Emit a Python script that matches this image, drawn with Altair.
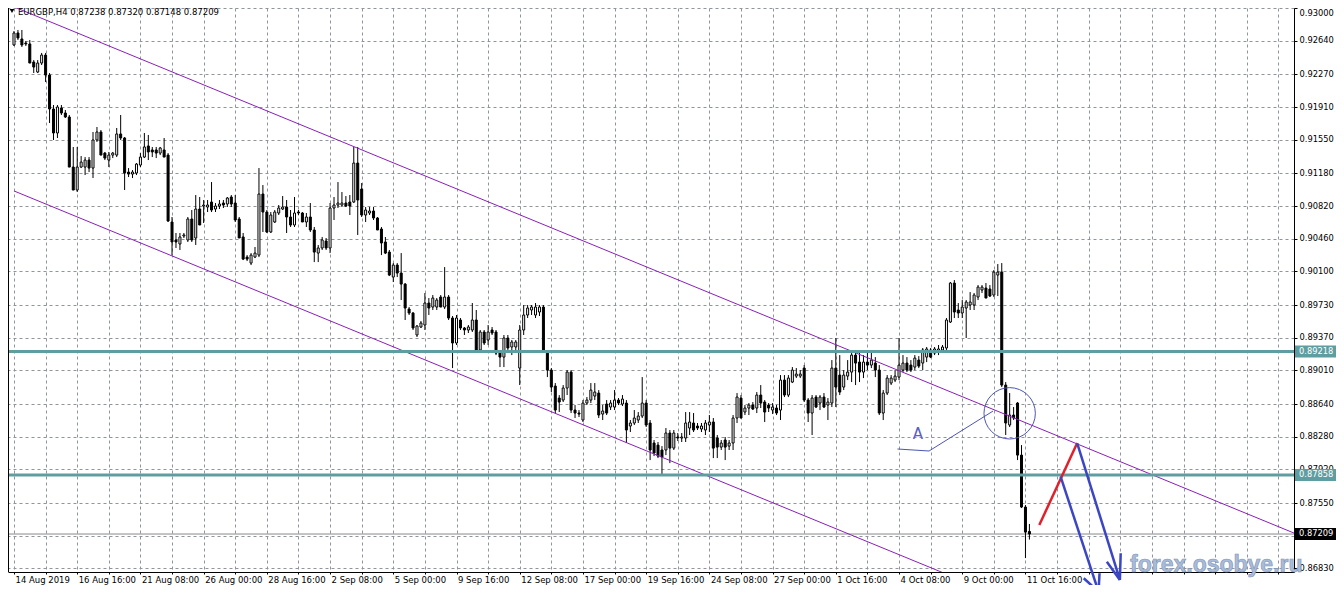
import json
import altair as alt
import pandas as pd

# ---------------- candle data (EURGBP H4) ----------------
OPEN = [0.92593,0.92725,0.92659,0.92615,0.92604,0.92405,0.92295,0.92394,0.92482,0.92262,
0.91888,0.91624,0.91899,0.91844,0.91800,0.91249,0.90996,0.91249,0.91249,0.91326,
0.91238,0.91547,0.91635,0.91403,0.91326,0.91381,0.91381,0.91613,0.91569,0.91194,
0.91172,0.91183,0.91271,0.91359,0.91481,0.91437,0.91437,0.91403,0.91437,0.91381,
0.90644,0.90446,0.90402,0.90490,0.90446,0.90677,0.90468,0.90787,0.90820,0.90809,
0.90864,0.90787,0.90820,0.90853,0.90842,0.90919,0.90853,0.90677,0.90479,0.90258,
0.90192,0.90258,0.90280,0.90952,0.90754,0.90534,0.90644,0.90743,0.90787,0.90809,
0.90699,0.90611,0.90754,0.90743,0.90644,0.90699,0.90556,0.90302,0.90358,0.90435,
0.90358,0.90798,0.90831,0.90831,0.90853,0.90864,0.90864,0.91293,0.91007,0.90721,
0.90743,0.90765,0.90688,0.90567,0.90424,0.90313,0.90038,0.90170,0.90082,0.89961,
0.89686,0.89642,0.89400,0.89488,0.89510,0.89752,0.89708,0.89708,0.89818,0.89708,
0.89818,0.89587,0.89312,0.89565,0.89477,0.89455,0.89455,0.89565,0.89235,0.89433,
0.89345,0.89455,0.89433,0.89212,0.89157,0.89367,0.89268,0.89268,0.89036,0.89455,
0.89620,0.89675,0.89620,0.89653,0.89708,0.89212,0.89014,0.88838,0.88706,0.88684,
0.88816,0.88992,0.88574,0.88541,0.88464,0.88651,0.88684,0.88728,0.88761,0.88530,
0.88640,0.88607,0.88607,0.88684,0.88640,0.88651,0.88398,0.88431,0.88464,0.88508,
0.88651,0.88431,0.88211,0.88188,0.88134,0.88134,0.88321,0.88155,0.88277,0.88266,
0.88266,0.88376,0.88431,0.88398,0.88365,0.88354,0.88409,0.88442,0.88266,0.88166,
0.88244,0.88177,0.88211,0.88486,0.88706,0.88552,0.88596,0.88629,0.88596,0.88739,
0.88662,0.88629,0.88574,0.88596,0.88574,0.88904,0.88739,0.88882,0.88948,0.88948,
0.89036,0.88684,0.88541,0.88717,0.88651,0.88717,0.88629,0.88651,0.89036,0.88959,
0.88827,0.88948,0.88992,0.89179,0.89102,0.88992,0.89102,0.89069,0.89091,0.89014,
0.88541,0.88761,0.88871,0.88904,0.88937,0.89014,0.89091,0.89069,0.89047,0.89124,
0.89091,0.89157,0.89235,0.89201,0.89212,0.89235,0.89257,0.89543,0.89972,0.89675,
0.89642,0.89697,0.89730,0.89730,0.89818,0.89895,0.89917,0.89906,0.89840,0.90060,
0.90093,0.88849,0.88409,0.88519,0.88651,0.88078,0.87506,0.87238]
HIGH = [0.92747,0.92758,0.92758,0.92637,0.92648,0.92427,0.92427,0.92505,0.92505,0.92284,
0.91932,0.91932,0.91932,0.91877,0.91822,0.91470,0.91470,0.91370,0.91359,0.91359,
0.91635,0.91690,0.91657,0.91415,0.91415,0.91415,0.91679,0.91822,0.91580,0.91238,
0.91216,0.91293,0.91403,0.91624,0.91602,0.91470,0.91470,0.91470,0.91569,0.91403,
0.90699,0.90523,0.90523,0.90523,0.90699,0.90776,0.90941,0.90919,0.90886,0.90886,
0.91084,0.90853,0.90886,0.90886,0.90919,0.90941,0.90941,0.90699,0.90523,0.90280,
0.90302,0.90369,0.91238,0.91051,0.90776,0.90754,0.90776,0.90831,0.90930,0.90886,
0.90776,0.90919,0.90776,0.90754,0.90743,0.90853,0.90589,0.90391,0.90479,0.90468,
0.90853,0.90919,0.91084,0.90974,0.90930,0.90941,0.91470,0.91470,0.91073,0.90809,
0.90809,0.90809,0.90699,0.90589,0.90479,0.90336,0.90192,0.90192,0.90302,0.89972,
0.89708,0.89653,0.89510,0.89554,0.89862,0.89807,0.89840,0.89807,0.89840,0.90148,
0.89840,0.89609,0.89620,0.89587,0.89488,0.89510,0.89752,0.89675,0.89455,0.89455,
0.89510,0.89488,0.89455,0.89235,0.89400,0.89400,0.89345,0.89345,0.89510,0.89730,
0.89730,0.89730,0.89752,0.89730,0.89730,0.89235,0.89036,0.88871,0.88739,0.88849,
0.89014,0.89014,0.88629,0.88574,0.88684,0.88717,0.88871,0.88871,0.88794,0.88629,
0.88684,0.88684,0.88794,0.88706,0.88739,0.88684,0.88464,0.88574,0.88552,0.88937,
0.88684,0.88464,0.88244,0.88222,0.88177,0.88376,0.88354,0.88354,0.88321,0.88321,
0.88552,0.88552,0.88541,0.88431,0.88431,0.88464,0.88519,0.88486,0.88299,0.88244,
0.88277,0.88244,0.88519,0.88761,0.88739,0.88629,0.88651,0.88662,0.88772,0.88849,
0.88684,0.88651,0.88651,0.88629,0.88959,0.88959,0.88959,0.89047,0.89036,0.89014,
0.89069,0.88706,0.88739,0.88739,0.88739,0.88761,0.88706,0.89124,0.89367,0.89179,
0.89014,0.89124,0.89235,0.89235,0.89212,0.89179,0.89212,0.89212,0.89157,0.89069,
0.88794,0.88959,0.88959,0.89014,0.89367,0.89179,0.89157,0.89124,0.89179,0.89168,
0.89257,0.89268,0.89257,0.89268,0.89290,0.89290,0.89587,0.89983,0.90005,0.89752,
0.89785,0.89785,0.89873,0.89862,0.89950,0.89950,0.89972,0.89950,0.90115,0.90181,
0.90192,0.88882,0.88761,0.88607,0.88662,0.88188,0.87528,0.87320]
LOW = [0.92582,0.92648,0.92571,0.92582,0.92394,0.92284,0.92284,0.92372,0.92185,0.91734,
0.91547,0.91569,0.91822,0.91789,0.91249,0.90996,0.90974,0.91238,0.91161,0.91194,
0.91128,0.91525,0.91381,0.91326,0.91249,0.91348,0.91359,0.91547,0.90996,0.91139,
0.91128,0.91161,0.91249,0.91348,0.91326,0.91359,0.91348,0.91381,0.91359,0.90644,
0.90280,0.90358,0.90336,0.90468,0.90424,0.90424,0.90391,0.90611,0.90633,0.90754,
0.90754,0.90754,0.90787,0.90798,0.90809,0.90809,0.90644,0.90468,0.90225,0.90214,
0.90170,0.90247,0.90258,0.90534,0.90523,0.90523,0.90633,0.90721,0.90776,0.90523,
0.90589,0.90589,0.90721,0.90644,0.90589,0.90534,0.90203,0.90203,0.90336,0.90336,
0.90302,0.90666,0.90798,0.90809,0.90809,0.90721,0.90853,0.90501,0.90699,0.90644,
0.90721,0.90666,0.90556,0.90280,0.90291,0.90049,0.89983,0.90038,0.89785,0.89565,
0.89620,0.89455,0.89378,0.89477,0.89455,0.89620,0.89675,0.89675,0.89708,0.89686,
0.89565,0.89036,0.89290,0.89455,0.89400,0.89422,0.89433,0.89212,0.89212,0.89290,
0.89290,0.89400,0.89179,0.89047,0.89047,0.89235,0.89179,0.89235,0.88849,0.89400,
0.89587,0.89620,0.89587,0.89609,0.89212,0.88937,0.88772,0.88541,0.88552,0.88662,
0.88739,0.88541,0.88486,0.88497,0.88442,0.88629,0.88651,0.88684,0.88486,0.88464,
0.88519,0.88574,0.88574,0.88629,0.88618,0.88211,0.88332,0.88409,0.88431,0.88486,
0.88387,0.88023,0.88067,0.88045,0.87869,0.88078,0.87990,0.88134,0.88233,0.88222,
0.88222,0.88299,0.88332,0.88354,0.88332,0.88299,0.88332,0.88045,0.88045,0.88134,
0.88023,0.88134,0.88134,0.88431,0.88486,0.88519,0.88519,0.88574,0.88541,0.88596,
0.88442,0.88552,0.88530,0.88519,0.88464,0.88717,0.88717,0.88871,0.88926,0.88926,
0.88662,0.88442,0.88299,0.88596,0.88574,0.88596,0.88464,0.88607,0.88607,0.88739,
0.88794,0.88904,0.88882,0.88849,0.88882,0.88926,0.89014,0.89036,0.88937,0.88519,
0.88464,0.88739,0.88849,0.88882,0.88904,0.88992,0.88992,0.88992,0.89014,0.89036,
0.89014,0.89102,0.89146,0.89179,0.89179,0.89212,0.89235,0.89532,0.89587,0.89587,
0.89587,0.89367,0.89675,0.89675,0.89785,0.89862,0.89807,0.89818,0.89818,0.89829,
0.88827,0.88299,0.88387,0.88464,0.88023,0.87495,0.86944,0.87148]
CLOSE = [0.92725,0.92670,0.92593,0.92604,0.92394,0.92350,0.92394,0.92482,0.92262,0.91888,
0.91624,0.91910,0.91844,0.91800,0.91249,0.90996,0.91249,0.91304,0.91326,0.91238,
0.91547,0.91635,0.91381,0.91348,0.91381,0.91403,0.91613,0.91569,0.91183,0.91172,
0.91194,0.91282,0.91359,0.91470,0.91415,0.91415,0.91403,0.91459,0.91359,0.90655,
0.90424,0.90424,0.90479,0.90501,0.90677,0.90446,0.90787,0.90611,0.90831,0.90831,
0.90776,0.90820,0.90842,0.90831,0.90908,0.90842,0.90666,0.90468,0.90236,0.90236,
0.90280,0.90302,0.90952,0.90754,0.90534,0.90721,0.90754,0.90798,0.90809,0.90699,
0.90611,0.90743,0.90743,0.90644,0.90699,0.90556,0.90313,0.90358,0.90446,0.90358,
0.90798,0.90831,0.90853,0.90853,0.90820,0.90820,0.91293,0.90886,0.90721,0.90776,
0.90765,0.90688,0.90556,0.90413,0.90302,0.90060,0.90170,0.90082,0.89961,0.89697,
0.89642,0.89477,0.89499,0.89532,0.89752,0.89697,0.89807,0.89785,0.89708,0.89818,
0.89587,0.89312,0.89587,0.89477,0.89455,0.89488,0.89565,0.89235,0.89433,0.89312,
0.89433,0.89422,0.89201,0.89157,0.89367,0.89257,0.89323,0.89323,0.89455,0.89620,
0.89697,0.89708,0.89708,0.89708,0.89235,0.89014,0.88827,0.88574,0.88662,0.88816,
0.88992,0.88574,0.88541,0.88530,0.88651,0.88684,0.88794,0.88772,0.88519,0.88563,
0.88541,0.88651,0.88684,0.88651,0.88695,0.88354,0.88431,0.88486,0.88508,0.88651,
0.88409,0.88134,0.88101,0.88067,0.88056,0.88321,0.88155,0.88321,0.88266,0.88277,
0.88431,0.88442,0.88354,0.88376,0.88398,0.88431,0.88442,0.88155,0.88166,0.88211,
0.88166,0.88211,0.88486,0.88717,0.88486,0.88596,0.88629,0.88585,0.88739,0.88651,
0.88552,0.88596,0.88607,0.88541,0.88904,0.88739,0.88926,0.89014,0.88970,0.88970,
0.88684,0.88541,0.88706,0.88607,0.88717,0.88607,0.88662,0.89036,0.88827,0.88772,
0.88959,0.88992,0.89179,0.89091,0.88992,0.89102,0.89069,0.89124,0.89014,0.88541,
0.88761,0.88926,0.88926,0.88948,0.89069,0.89091,0.89014,0.89014,0.89146,0.89058,
0.89235,0.89246,0.89157,0.89246,0.89246,0.89268,0.89565,0.89972,0.89653,0.89642,
0.89708,0.89763,0.89763,0.89840,0.89928,0.89928,0.89807,0.89829,0.90093,0.90093,
0.88849,0.88431,0.88519,0.88486,0.88078,0.87506,0.87230,0.87209]

X_LABELS = ["14 Aug 2019", "16 Aug 16:00", "21 Aug 08:00", "26 Aug 00:00", "28 Aug 16:00",
            "2 Sep 08:00", "5 Sep 00:00", "9 Sep 16:00", "12 Sep 08:00", "17 Sep 00:00",
            "19 Sep 16:00", "24 Sep 08:00", "27 Sep 00:00", "1 Oct 16:00", "4 Oct 08:00",
            "9 Oct 00:00", "11 Oct 16:00"]
X_GRID = list(range(0, 321, 8))
Y_TICKS = [0.93000, 0.92640, 0.92270, 0.91910, 0.91550, 0.91180, 0.90820, 0.90460, 0.90100,
           0.89730, 0.89370, 0.89010, 0.88640, 0.88280, 0.87920, 0.87550, 0.87190, 0.86830]

LEVELS = [0.89218, 0.87858]
BID = 0.87209

CH_ID = ["upper", "upper", "lower", "lower"]
CH_I = [0, 324, 0, 240]
CH_P = [0.93012, 0.87219, 0.90986, 0.86696]

A_TEXT_I = [228.8]
A_TEXT_P = [0.88310]
A_LINE_I = [223.6, 231.6, 247.8]
A_LINE_P = [0.88145, 0.88123, 0.88563]
CIRCLE_I = [252.0]
CIRCLE_P = [0.88538]

RED_I = [259.5, 269.1]
RED_P = [0.87308, 0.88211]

BLUE_SEG = ["a1", "a1", "a1l", "a1l", "a1r", "a1r", "a2", "a2", "a2l", "a2l", "a2r", "a2r"]
BLUE_I = [264.9, 274.5, 270.75, 274.5, 274.75, 274.5, 269.1, 279.9, 276.6, 279.9, 280.1, 279.9]
BLUE_P = [0.87840, 0.86574, 0.86722, 0.86574, 0.86777, 0.86574,
          0.88208, 0.86703, 0.86904, 0.86703, 0.86997, 0.86703]

BOX_P = [0.89218, 0.87858, 0.87209]
BOX_BG = ["#5f9ea0", "#5f9ea0", "#000000"]

FONT = "DejaVu Sans"
GRID = "#8f959c"
TEAL = "#5f9ea0"
PURPLE = "#8a1fb8"
ANNOT = "#4d55b5"

# whole chart must fit inside 1328 x 577 (page minus body margins)
W, H = 1286, 564
PAD_R, PAD_B = 42, 13

xs = alt.Scale(domain=[-0.25, 322.7], nice=False, zero=False)
ys = alt.Scale(domain=[0.86791, 0.93], nice=False, zero=False)

label_expr = ("datum.value % 16 === 0 && datum.value <= 256 ? "
              + json.dumps(X_LABELS) + "[datum.value / 16] : ''")

x_axis = alt.Axis(values=X_GRID, labelExpr=label_expr, grid=True, gridColor=GRID,
                  gridDash=[3, 3], gridWidth=1, tickSize=2, tickColor="black",
                  domainColor="black", labelAlign="left", labelBaseline="top", labelFont=FONT,
                  labelFontSize=8.5, labelColor="black", labelPadding=1,
                  labelOverlap=False, labelFlush=False, labelOffset=1)
y_axis = alt.Axis(orient="right", values=Y_TICKS, format=".5f", grid=True, gridColor=GRID,
                  gridDash=[3, 3], gridWidth=1, tickSize=3, tickColor="black",
                  domainColor="black", labelFont=FONT, labelFontSize=8.3,
                  labelColor="black", labelPadding=2, labelOverlap=False, labelFlush=1)


def X(f):
    return alt.X(f"{f}:Q", scale=xs, axis=x_axis, title=None)


def Y(f):
    return alt.Y(f"{f}:Q", scale=ys, axis=y_axis, title=None)


n = len(OPEN)
candles = pd.DataFrame({"i": list(range(n)), "o": OPEN, "h": HIGH, "l": LOW, "c": CLOSE})

one = pd.DataFrame({"k": [0]})

bid = alt.Chart(pd.DataFrame({"p": [BID]})).mark_rule(color="#8a8a8a", strokeWidth=1).encode(y=Y("p"))

wicks = alt.Chart(candles).mark_rule(color="black", strokeWidth=1).encode(
    x=X("i"), y=Y("l"), y2=alt.Y2("h:Q"))
bodies = alt.Chart(candles).mark_bar(width=2, stroke="black", strokeWidth=1).encode(
    x=X("i"), y=Y("o"), y2=alt.Y2("c:Q"),
    fill=alt.condition("datum.c >= datum.o", alt.value("white"), alt.value("black")))

channel = alt.Chart(pd.DataFrame({"id": CH_ID, "i": CH_I, "p": CH_P})).mark_line(
    color=PURPLE, strokeWidth=1, clip=True).encode(x=X("i"), y=Y("p"), detail="id:N")

levels = alt.Chart(pd.DataFrame({"p": LEVELS})).mark_rule(color=TEAL, strokeWidth=3).encode(y=Y("p"))

a_line = alt.Chart(pd.DataFrame({"i": A_LINE_I, "p": A_LINE_P, "k": [0, 1, 2]})).mark_line(
    color=ANNOT, strokeWidth=1).encode(x=X("i"), y=Y("p"), order="k:Q")
a_text = alt.Chart(pd.DataFrame({"i": A_TEXT_I, "p": A_TEXT_P})).mark_text(
    text="A", font=FONT, fontSize=15, color="#5860c8").encode(x=X("i"), y=Y("p"))
circle = alt.Chart(pd.DataFrame({"i": CIRCLE_I, "p": CIRCLE_P})).mark_point(
    shape="circle", size=2640, filled=False, color=ANNOT, strokeWidth=1, opacity=1).encode(
    x=X("i"), y=Y("p"))

red = alt.Chart(pd.DataFrame({"i": RED_I, "p": RED_P})).mark_line(
    color="#e0202a", strokeWidth=2.5).encode(x=X("i"), y=Y("p"))
blue = alt.Chart(pd.DataFrame({"seg": BLUE_SEG, "i": BLUE_I, "p": BLUE_P,
                               "k": list(range(len(BLUE_I)))})).mark_line(
    color="#3b46c4", strokeWidth=2.5, clip=False).encode(
    x=X("i"), y=Y("p"), detail="seg:N", order="k:Q")

boxes = alt.Chart(pd.DataFrame({"p": BOX_P, "bg": BOX_BG})).mark_tick(
    orient="horizontal", size=41, thickness=12, opacity=1).encode(
    x=alt.value(W + 21.5), y=Y("p"), color=alt.Color("bg:N", scale=None))
box_text = alt.Chart(pd.DataFrame({"p": BOX_P, "t": [f"{v:.5f}" for v in BOX_P]})).mark_text(
    align="left", baseline="middle", font=FONT, fontSize=8.3, color="white").encode(
    x=alt.value(W + 5), y=Y("p"), text="t:N")

left_border = alt.Chart(one).mark_rule(color="black", strokeWidth=1).encode(
    x=alt.value(0.5), y=alt.value(0), y2=alt.value(H))

watermark = alt.Chart(one).mark_text(
    text="forex.osobye.ru", align="left", baseline="alphabetic", font="Liberation Sans",
    fontSize=23, fontWeight="bold", fill="#a9bcd9", stroke="#7f93b5", strokeWidth=0.6).encode(
    x=alt.value(1122), y=alt.value(564))

title_txt = f"EURGBP,H4  {OPEN[-1]:.5f} {HIGH[-1]:.5f} {LOW[-1]:.5f} {CLOSE[-1]:.5f}"
title = alt.Chart(one).mark_text(
    text=title_txt, align="left", baseline="top", font=FONT, fontSize=8.5, color="black").encode(
    x=alt.value(10), y=alt.value(0))
tri = alt.Chart(one).mark_point(shape="triangle-down", filled=True, size=22, color="black",
                                opacity=1).encode(x=alt.value(4), y=alt.value(3))

chart = alt.layer(
    bid, wicks, bodies, channel, levels, a_line, a_text, circle, red, blue,
    boxes, box_text, left_border, watermark, title, tri
).properties(
    width=W, height=H,
    autosize=alt.AutoSizeParams(type="none"),
    padding={"left": 0, "top": 0, "right": PAD_R, "bottom": PAD_B},
    background="white",
).configure_view(strokeOpacity=0)

chart.save("out.html", embed_options={"renderer": "svg", "actions": False})
